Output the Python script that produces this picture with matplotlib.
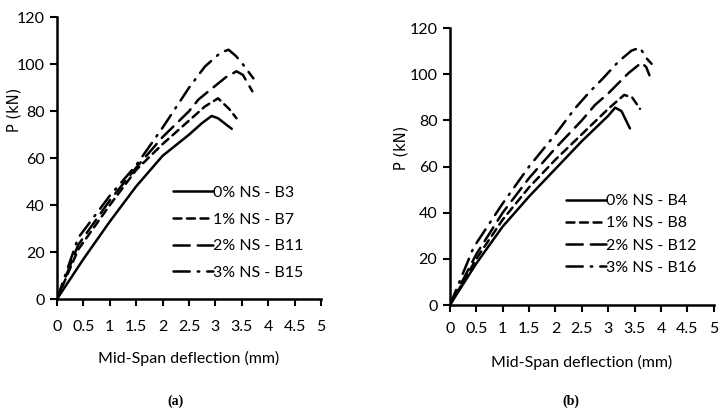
import matplotlib
matplotlib.use("Agg")
import matplotlib.pyplot as plt

plt.rcParams['font.family'] = ['Lato', 'DejaVu Sans']

# panel (a): beams B3, B7, B11, B15
a_b3_x = [0, 0.5, 1, 1.5, 2, 2.5, 2.75, 2.93, 3.05, 3.31]
a_b3_y = [0, 17, 33, 48, 61, 70, 75, 78, 77, 72.5]
a_b7_x = [0, 0.4, 1, 1.5, 2, 2.5, 2.8, 3.05, 3.26, 3.4]
a_b7_y = [0, 21, 40, 55, 66, 76, 82, 85.5, 81, 77]
a_b11_x = [0, 0.4, 1, 1.5, 2, 2.5, 2.68, 2.93, 3.2, 3.4, 3.52, 3.7]
a_b11_y = [0, 23, 42, 56, 69, 80, 85, 89.6, 94.5, 97, 95.5, 88.5]
a_b15_x = [0, 0.4, 1, 1.5, 2, 2.5, 2.8, 3.1, 3.25, 3.39, 3.52, 3.72]
a_b15_y = [0, 26, 44, 57, 73, 90, 99, 105, 106.2, 103.5, 100, 94]

# panel (b): beams B4, B8, B12, B16
b_b4_x = [0, 0.5, 1, 1.5, 2, 2.5, 3, 3.13, 3.25, 3.41]
b_b4_y = [0, 18, 34, 47, 59, 71, 82, 85.5, 84, 76.5]
b_b8_x = [0, 0.5, 1, 1.5, 2, 2.5, 3, 3.3, 3.45, 3.6]
b_b8_y = [0, 20, 37, 51, 63, 74, 85, 91, 90, 85]
b_b12_x = [0, 0.5, 1, 1.5, 2, 2.5, 2.75, 3, 3.38, 3.63, 3.72, 3.78]
b_b12_y = [0, 22, 40, 55, 68, 80, 86.7, 91.7, 100.4, 105, 103, 99.5]
b_b16_x = [0, 0.45, 1, 1.5, 2, 2.37, 2.65, 2.9, 3.19, 3.44, 3.6, 3.72, 3.82]
b_b16_y = [0, 25, 44, 60, 74, 85.2, 92.4, 98.2, 105.4, 110.2, 111.5, 107, 104.5]

xticks = [0, 0.5, 1, 1.5, 2, 2.5, 3, 3.5, 4, 4.5, 5]
xtick_labels = ['0', '0.5', '1', '1.5', '2', '2.5', '3', '3.5', '4', '4.5', '5']
yticks = [0, 20, 40, 60, 80, 100, 120]

styles = [
    dict(linestyle='-'),
    dict(linestyle=(0, (3.2, 2.2))),
    dict(linestyle=(0, (6.5, 3.2))),
    dict(linestyle=(0, (6.5, 3.2, 0.6, 3.2))),
]

fig = plt.figure(figsize=(7.28, 4.13), dpi=100)
ax1 = fig.add_axes([0.0783, 0.276, 0.3626, 0.682])
ax2 = fig.add_axes([0.618, 0.2615, 0.3626, 0.6707])

def draw(ax, series, labels, leg_y, lab_x, lab_y, xpad, xlpad, lsp):
    for (xs, ys), lab, st in zip(series, labels, styles):
        ax.plot(xs, ys, color='black', lw=1.8, label=lab,
                dash_capstyle='round', solid_capstyle='round', **st)
    ax.set_xlim(0, 5)
    ax.set_ylim(0, 120)
    ax.set_xticks(xticks)
    ax.set_xticklabels(xtick_labels)
    ax.set_yticks(yticks)
    for s in ['top', 'right']:
        ax.spines[s].set_visible(False)
    for s in ['left', 'bottom']:
        ax.spines[s].set_linewidth(1.8)
    ax.tick_params(axis='x', direction='out', length=5, width=1.5, pad=xpad, labelsize=11.5)
    ax.tick_params(axis='y', direction='out', length=5, width=1.5, pad=4, labelsize=11.5)
    ax.set_xlabel('Mid-Span deflection (mm)', fontsize=11.5, labelpad=xlpad)
    ax.set_ylabel('P (kN)', fontsize=10.5, family='DejaVu Sans')
    ax.yaxis.set_label_coords(lab_x, lab_y)
    ax.legend(loc='center left', bbox_to_anchor=(0.44, leg_y), frameon=False,
              fontsize=11.5, handlelength=2.5, handletextpad=0.0,
              labelspacing=lsp, borderpad=0, borderaxespad=0)

draw(ax1, [(a_b3_x, a_b3_y), (a_b7_x, a_b7_y), (a_b11_x, a_b11_y), (a_b15_x, a_b15_y)],
     ['0% NS - B3', '1% NS - B7', '2% NS - B11', '3% NS - B15'], 0.235, -0.135, 0.67, 10, 12, 0.78)
draw(ax2, [(b_b4_x, b_b4_y), (b_b8_x, b_b8_y), (b_b12_x, b_b12_y), (b_b16_x, b_b16_y)],
     ['0% NS - B4', '1% NS - B8', '2% NS - B12', '3% NS - B16'], 0.255, -0.155, 0.567, 7, 14, 0.5)

fig.text(175 / 728, 1 - 401 / 413, '(a)', ha='center', va='center',
         family='Liberation Serif', fontsize=10, fontweight='bold')
fig.text(571 / 728, 1 - 401 / 413, '(b)', ha='center', va='center',
         family='Liberation Serif', fontsize=10, fontweight='bold')

fig.savefig('out.png', dpi=100)
